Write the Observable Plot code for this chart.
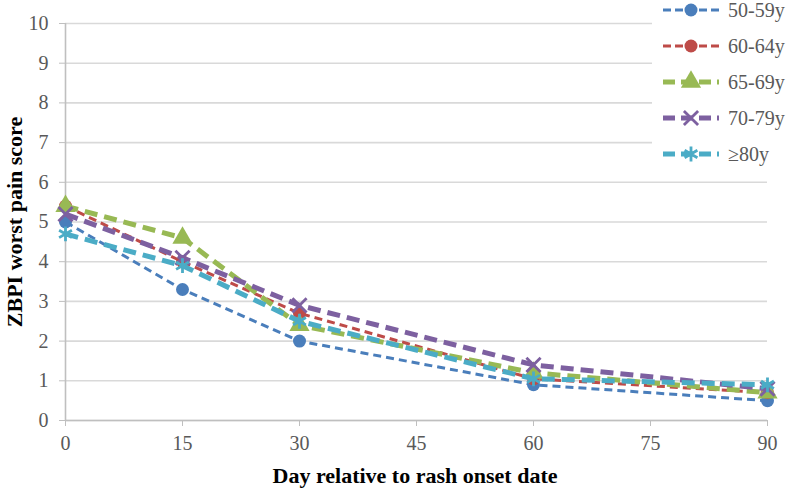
<!DOCTYPE html>
<html>
<head>
<meta charset="utf-8">
<script src="https://cdn.jsdelivr.net/npm/d3@7"></script>
<script src="https://cdn.jsdelivr.net/npm/@observablehq/plot@0.6"></script>
<style>
  html, body { margin: 0; padding: 0; background: #fff; }
  #wrap { position: relative; width: 787px; height: 488px; font-family: "Liberation Serif", "Times New Roman", serif; }
  #wrap svg text { font-family: "Liberation Serif", "Times New Roman", serif; }
  #legend { position: absolute; left: 0; top: 0; }
</style>
</head>
<body>
<div id="wrap"></div>
<script>
// ---- data ----
const days = [0, 15, 30, 60, 90];
const seriesNames = ["50-59y", "60-64y", "65-69y", "70-79y", "≥80y"];
const v5059 = [5.0, 3.3, 2.0, 0.9, 0.5];
const v6064 = [5.4, 4.0, 2.7, 1.05, 0.7];
const v6569 = [5.4, 4.6, 2.4, 1.2, 0.7];
const v7079 = [5.2, 4.1, 2.9, 1.4, 0.8];
const v80 = [4.7, 3.9, 2.5, 1.05, 0.9];
const xTicks = [0, 15, 30, 45, 60, 75, 90];
const yTicks = [0, 1, 2, 3, 4, 5, 6, 7, 8, 9, 10];

// ---- styles ----
const seriesValues = [v5059, v6064, v6569, v7079, v80];
const FONT = "'Liberation Serif', 'Times New Roman', serif";
const styles = [
  {color: "#4A7EBB", width: 3, dash: "8,5", symbol: "circle", r: 6.5},
  {color: "#BE4B48", width: 3, dash: "8,5", symbol: "circle", r: 6.5},
  {color: "#98B954", width: 5, dash: "13,7", symbol: "triangle", r: 7.5},
  {color: "#7D60A0", width: 5, dash: "13,7", symbol: "times", r: 6.5},
  {color: "#4BACC6", width: 5, dash: "13,7", symbol: "asterisk", r: 7}
];

const rows = [];
seriesNames.forEach((s, i) => days.forEach((d, j) => rows.push({series: s, day: d, score: seriesValues[i][j]})));

const marks = [
  Plot.gridY(yTicks, {stroke: "#D9D9D9", strokeOpacity: 1, strokeWidth: 1.6}),
  Plot.ruleX([0], {stroke: "#BFBFBF", strokeWidth: 1.6}),
  Plot.ruleY([0], {stroke: "#BFBFBF", strokeWidth: 1.6}),
  Plot.axisY({ticks: yTicks, tickSize: 6, tickPadding: 11, stroke: "#BFBFBF", fontSize: 20, fontFamily: FONT, fill: "#595959", label: null}),
  Plot.axisX({ticks: xTicks, tickSize: 6, tickPadding: 9, stroke: "#BFBFBF", fontSize: 20, fontFamily: FONT, fill: "#595959", label: null}),
];
seriesNames.forEach((s, i) => {
  const st = styles[i];
  const data = rows.filter(r => r.series === s);
  marks.push(Plot.line(data, {x: "day", y: "score", stroke: st.color, strokeWidth: st.width, strokeDasharray: st.dash, strokeLinecap: "butt"}));
  const stroked = st.symbol === "times" || st.symbol === "asterisk";
  marks.push(Plot.dot(data, {x: "day", y: "score", symbol: st.symbol, r: st.r,
    fill: stroked ? "none" : st.color, stroke: stroked ? st.color : "none", strokeWidth: stroked ? 2.8 : 0}));
});

const chart = Plot.plot({
  width: 787, height: 488,
  marginLeft: 65, marginRight: 20, marginTop: 23, marginBottom: 68,
  x: {domain: [0, 90]},
  y: {domain: [0, 10]},
  style: {fontFamily: FONT, color: "#595959", background: "#fff", overflow: "visible"},
  marks
});
document.getElementById("wrap").appendChild(chart);

// axis titles
const svg = d3.select(chart);
svg.append("text").attr("x", 415).attr("y", 483).attr("text-anchor", "middle")
  .attr("font-size", 22).attr("font-weight", "bold").attr("fill", "#000")
  .style("font-family", FONT).text("Day relative to rash onset date");
svg.append("text").attr("transform", "translate(22,222) rotate(-90)").attr("text-anchor", "middle")
  .attr("font-size", 22).attr("font-weight", "bold").attr("fill", "#000")
  .style("font-family", FONT).text("ZBPI worst pain score");

// legend overlay
const leg = d3.select("#wrap").append("svg").attr("id", "legend").attr("width", 787).attr("height", 488)
  .style("pointer-events", "none");
leg.append("rect").attr("x", 652).attr("y", 0).attr("width", 135).attr("height", 172).attr("fill", "#fff");
const sym = {circle: d3.symbolCircle, triangle: d3.symbolTriangle, times: d3.symbolTimes, asterisk: d3.symbolAsterisk};
seriesNames.forEach((s, i) => {
  const st = styles[i];
  const y = 10 + i * 36;
  const g = leg.append("g");
  g.append("line").attr("x1", 663).attr("x2", 719).attr("y1", y).attr("y2", y)
    .attr("stroke", st.color).attr("stroke-width", st.width).attr("stroke-dasharray", i < 2 ? "8,4" : "12,6");
  const stroked = st.symbol === "times" || st.symbol === "asterisk";
  const area = Math.PI * st.r * st.r;
  g.append("path").attr("d", d3.symbol(sym[st.symbol], area)()).attr("transform", `translate(691,${y})`)
    .attr("fill", stroked ? "none" : st.color).attr("stroke", stroked ? st.color : "none").attr("stroke-width", 2.8);
  g.append("text").attr("x", 728).attr("y", y).attr("dy", "0.35em").attr("font-size", 20)
    .attr("fill", "#595959").style("font-family", FONT).text(s);
});
</script>
</body>
</html>
